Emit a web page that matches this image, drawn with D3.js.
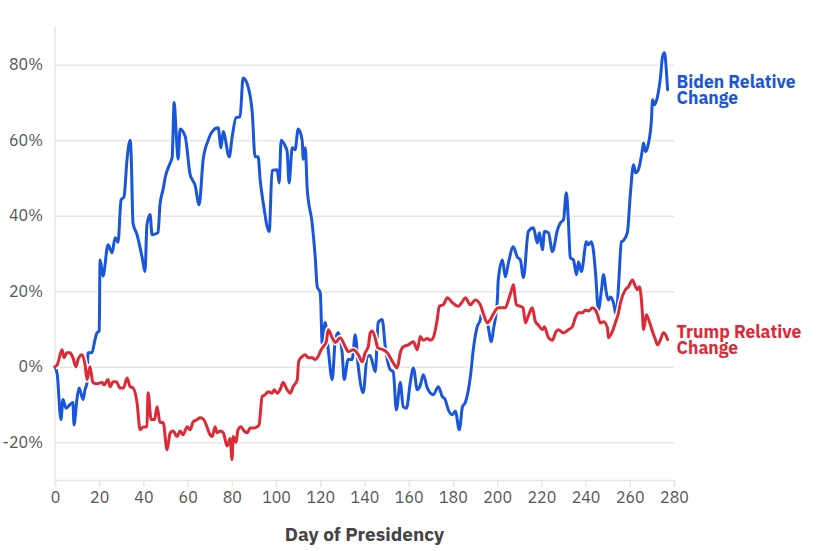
<!DOCTYPE html>
<html><head><meta charset="utf-8">
<script src="https://cdn.jsdelivr.net/npm/d3@7"></script>
<style>
html,body{margin:0;padding:0;background:#fff;}
svg{display:block;}
</style></head>
<body>
<svg id="chart" width="817" height="551"></svg>
<script>
const bidenDays = [0,1,2.7,3.6,5,6.8,8.1,8.6,9.9,10.9,12.7,13.6,14.5,14.9,16.7,18.1,19,20,20.4,21.7,24,25.8,27.2,28.5,29.9,31.2,32.6,34,34.4,35.3,37.1,39.4,40.7,41.6,43,43.9,46.6,47.5,48.9,49.8,52.1,53,53.9,54.8,55.7,56.6,58.9,61.1,63.4,65.2,67,69.3,71.1,73.8,75.1,76.1,78.8,80.1,81.9,83.7,85.1,86.9,89.2,90.5,91.9,92.8,94.2,96.9,98.2,100.5,101.4,102.3,104.1,105,105.9,107.3,108.6,110,111.8,112.3,113.2,114.1,116.3,117.7,118.6,120,120.9,122.2,123.6,125.4,126.8,128.1,129.9,130.8,132.6,134.4,135.8,137.2,139.4,141.2,142.5,144.9,146.2,148,149.4,151.7,153,154.4,156.2,157.5,159,160.7,162.1,163.9,165.2,166.6,168.4,171.1,173.4,175.2,176.5,177.9,179.7,181.1,182.9,184.3,185.6,187.9,189.2,191,192.4,193.3,195.6,197.4,198.3,200.1,200.5,202.4,203.7,205.1,207.3,209.1,210.5,211.9,214.1,216.4,218.2,219.1,220.5,221.4,223.2,225,227.3,228.6,230,231.3,232.2,233.1,234.5,235.9,236.8,238.1,240.4,241.3,242.6,243.5,244.5,245.8,247.2,248.1,249.4,250.3,251.4,252.6,253.9,254.9,256.2,257.1,258.9,260.3,261.7,262.6,263.9,265.7,266.2,267.1,268.5,269.8,270.3,271.2,272.5,273.9,274.8,275.7,276.6,277.1];
const bidenValues = [0,-2,-14,-8.7,-11,-10,-9.5,-15.4,-8.7,-5.6,-8.7,-6,-4.2,3.7,3.7,7.2,9,9.5,28.3,24,32.3,30.2,34.2,33,44.2,45,55,60,57,38,35,29,25.2,37.6,40.3,35,35.5,43,47,50,54,55.5,70,62,55,63,61,51,48,42.9,54.8,60,62.3,63.3,58,62.3,55.6,60.7,66,66.2,76.5,75,67.5,55.6,55.6,49.5,43.4,35.8,52,52.2,48.7,60,58.5,57,48.7,58,57.5,63,60,55,58,47,38.1,29.1,21.2,19.6,6,11.7,4.5,-3.4,7.2,9,3.7,-3.4,1.9,1.9,8.5,0,-6.9,2.6,3,-1.3,11.7,12.5,5.3,-0.8,-1.3,-11.4,-4.2,-10.6,-11,-4.2,-0.3,-6.1,-5,-2.1,-5.6,-7.4,-5.3,-7.9,-8.7,-11.4,-12.7,-11.8,-16.7,-10.6,-9.5,-2.6,4.5,10.6,12.5,15.1,11.7,6.6,9.8,17.7,23,28.3,23.8,27.5,31.8,29.1,28.3,23.6,35.8,36.8,32.8,35.5,31,35.8,35.5,30.5,36.3,38.1,38.9,46.1,38.9,28.9,28.3,24.4,27.8,25.2,33.1,32.3,33.1,31,24.9,15.1,20.4,24.4,19.6,17.7,18.5,17,13.8,21.2,33.1,33.4,35.5,46.1,53.5,51.4,52.2,57.5,59.3,57,59.3,65.4,70.7,69.4,71.5,76.8,82.1,83.2,78,73.4];

const trumpDays = [0,1,3.2,4.1,5.4,6.8,8.1,9.5,10.4,12.2,13.6,14.5,15.8,17.2,19,21.3,22.2,24,24.9,26.3,27.7,29.4,31,32.6,34,35.3,37.1,38.5,39.8,41.6,42.1,43.5,45,46.2,47.5,48.9,50.7,52.1,53.4,55.2,56.6,57.9,59.8,61.1,62.5,64.3,65.6,67,68.8,69.7,71.1,72.4,73.3,74.7,76.1,77.9,79.2,80.1,80.6,81.9,82.8,84.2,85.1,86.9,88.3,90.1,91.4,92.3,93.7,95.1,96.4,98.2,99.1,100.5,101.8,103.2,105,106.4,107.7,109.6,110.2,111.8,113.2,114.5,116.3,117.7,119,120.4,121.3,122.7,123.6,125.4,126.8,129,131.3,132.6,134.9,137.2,139,140.3,141.7,142.6,143.5,144.9,146,148.5,150.3,153,154.8,156.2,157.5,159.8,162.1,163.9,165.2,166.6,168.4,169.8,171.1,172.9,173.8,175.6,177.5,179.7,182.4,184,185.6,187.9,190.1,192.4,193.8,195.6,196.9,198.3,200.5,203.7,205.1,206.9,207.3,208.7,210.5,211.7,212.8,214.1,215.9,217.3,218.7,220.5,221.4,223.2,225,226.4,227.7,230,232.2,234,235.4,236.8,238.6,239.9,241.5,243.1,244.5,245.4,246.7,248.1,249.9,250.3,252.1,253.5,254.9,255.8,258,259.4,261.2,262.6,263.5,264.4,265.7,266.2,267.5,268.5,270.3,271.6,272.5,273.9,275.2,276.6,277.1];
const trumpValues = [0,0.5,4.5,2.4,3.7,3.7,2.4,0,1.9,3.2,0.5,-3.4,0,-4.2,-4.5,-4.2,-4.8,-3.4,-5.3,-4,-4,-5.6,-5.6,-3,-5.3,-5.6,-9.5,-16.7,-16,-15.9,-6.9,-14,-14,-10.6,-14.8,-14.8,-22,-17.5,-17,-18.5,-17,-18,-15.9,-16.7,-14.6,-14,-13.5,-13.8,-16,-17.5,-18.5,-15.9,-17.5,-17,-17.5,-21,-19,-24.6,-18.5,-20,-16.7,-15.9,-16.7,-17.5,-16.2,-16.2,-15.9,-15.4,-7.9,-7.4,-6.6,-7,-6.1,-7,-6.1,-4.2,-6.1,-7,-5.3,-3.4,1.4,2.7,3.2,2.4,2.4,1.9,2.7,4.5,5.3,6.6,9.8,7.7,6.4,7.7,5.3,4,4.5,3.2,1.3,3.7,5.3,9,9.5,7.5,5,4.5,3.7,1,-0.3,3.7,5.3,5.8,6.6,4.5,8,7,7.5,7,7.7,12.5,16,16.4,18.3,17,16,17,18.3,16.4,17.7,16.4,14,11.6,12.5,14,15.6,15.6,17.7,21,21.7,16.4,16,15.6,11.6,13.5,15.6,12,11,9.8,10.6,7.7,7,9,9.8,9,9.8,10.6,13,14.3,14.3,15,14.8,15.6,15,13.8,11.6,11.9,10.3,7.7,9.3,11.7,14.3,17,20.4,21.2,23,21.2,20.4,21.2,14.3,9.8,13.8,12.5,9.3,7.2,5.8,7.2,9,8,7.2];

const xTicks = [0,20,40,60,80,100,120,140,160,180,200,220,240,260,280];
const yTicks = [-20,0,20,40,60,80];
const seriesNames = ["Biden Relative", "Trump Relative"];
const xTitle = "Day of Presidency";

const svg = d3.select("#chart");
const M = {left:55, right:143, top:27, bottom:71};
const W = 817, H = 551;
const x = d3.scaleLinear().domain([0,280]).range([M.left, W - M.right]);
const y = d3.scaleLinear().domain([-30,90]).range([H - M.bottom, M.top]);
const font = "'IBM Plex Sans', 'Open Sans', 'Noto Sans', sans-serif";
const gridColor = "#e6e6e6";

const gy = svg.append("g")
  .attr("transform", `translate(${M.left},0)`)
  .call(d3.axisLeft(y).tickValues(yTicks).tickSize(-(W - M.right - M.left)).tickPadding(12).tickFormat(d => d + "%"));
gy.select(".domain").remove();
gy.selectAll(".tick line").attr("stroke", gridColor).attr("stroke-width", 1.5);
gy.selectAll(".tick text").attr("font-family", font).attr("font-size", 16).attr("fill", "#555");

svg.append("line").attr("x1", M.left).attr("x2", M.left).attr("y1", M.top).attr("y2", H - M.bottom)
  .attr("stroke", gridColor).attr("stroke-width", 1.5);

const gx = svg.append("g")
  .attr("transform", `translate(0,${H - M.bottom})`)
  .call(d3.axisBottom(x).tickValues(xTicks).tickSize(7).tickPadding(5));
gx.select(".domain").attr("stroke", gridColor).attr("stroke-width", 1.5);
gx.selectAll(".tick line").attr("stroke", gridColor).attr("stroke-width", 1.5);
gx.selectAll(".tick text").attr("font-family", font).attr("font-size", 16).attr("fill", "#555");

svg.append("text").attr("x", (M.left + W - M.right) / 2).attr("y", 541)
  .attr("text-anchor", "middle").attr("font-family", font).attr("font-weight", 700)
  .attr("font-size", 19).attr("fill", "#444").text(xTitle);

const line = d3.line().x(d => x(d[0])).y(d => y(d[1])).curve(d3.curveMonotoneX);
const series = [
  {name: seriesNames[0], days: bidenDays, vals: bidenValues, color: "#1a56db"},
  {name: seriesNames[1], days: trumpDays, vals: trumpValues, color: "#dc2a37"}
];
series.forEach(s => {
  const pts = s.days.map((d, i) => [d, s.vals[i]]);
  svg.append("path").attr("d", line(pts)).attr("fill", "none").attr("stroke", "#fff")
    .attr("stroke-width", 6).attr("stroke-linejoin", "round");
  svg.append("path").attr("d", line(pts)).attr("fill", "none").attr("stroke", s.color)
    .attr("stroke-width", 3).attr("stroke-linejoin", "round").attr("stroke-linecap", "round");
  const last = pts[pts.length - 1];
  const lx = x(last[0]) + 9, ly = y(last[1]);
  [s.name, "Change"].forEach((txt, i) => {
    svg.append("text").attr("x", lx).attr("y", ly - 2 + i * 16.5)
      .attr("font-family", font).attr("font-weight", 700).attr("font-size", 17.5)
      .attr("fill", s.color).text(txt);
  });
});
</script>
</body></html>
